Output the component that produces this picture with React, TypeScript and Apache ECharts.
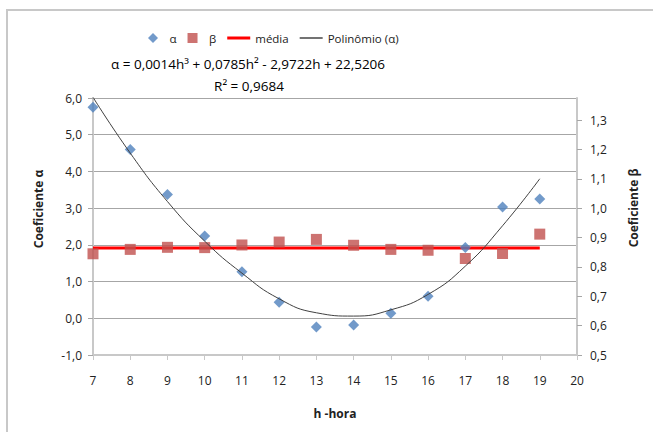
import React, { useEffect, useRef } from "react";
import * as echarts from "echarts";

const hours = [7, 8, 9, 10, 11, 12, 13, 14, 15, 16, 17, 18, 19];
const alphaValues = [5.75, 4.6, 3.37, 2.24, 1.27, 0.44, -0.24, -0.18, 0.14, 0.6, 1.93, 3.03, 3.25];
const betaValues = [0.845, 0.86, 0.867, 0.866, 0.875, 0.885, 0.894, 0.874, 0.86, 0.857, 0.829, 0.846, 0.912];
const mediaHours = [7, 19];
const mediaValue = 0.865;
const polyValues = [6.02, 4.5, 3.18, 2.1, 1.23, 0.53, 0.15, 0.06, 0.23, 0.65, 1.42, 2.52, 3.8];
const legendNames = ["α", "β", "média", "Polinômio (α)"];
const equationText = "α = 0,0014h³ + 0,0785h² - 2,9722h + 22,5206";
const r2Text = "R² = 0,9684";
const xAxisName = "h -hora";
const leftAxisName = "Coeficiente α";
const rightAxisName = "Coeficiente β";

const FONT = "'Open Sans', 'Noto Sans', sans-serif";

export default function App() {
  const ref = useRef<HTMLDivElement>(null);
  useEffect(() => {
    if (!ref.current) return;
    const chart = echarts.init(ref.current, null, { renderer: "svg" });
    const axisLineStyle = { color: "#c8c8c8", width: 2 };
    chart.setOption({
      animation: false,
      backgroundColor: "#ffffff",
      textStyle: { fontFamily: FONT },
      grid: { left: 93, right: 76, top: 98, bottom: 77, containLabel: false },
      legend: {
        left: 143,
        top: 27,
        itemWidth: 23,
        itemHeight: 10,
        itemGap: 11,
        symbolKeepAspect: true,
        textStyle: { fontFamily: FONT, fontSize: 11.5, color: "#222" },
        data: [
          { name: legendNames[0], icon: "path://M5,0L10,5L5,10L0,5Z", itemStyle: { color: "#4f81bd" } },
          { name: legendNames[1], icon: "path://M0,0H10V10H0Z", itemStyle: { color: "#c0504d" } },
          { name: legendNames[2], icon: "path://M0,0H23V3H0Z", itemStyle: { color: "#ff0000" } },
          { name: legendNames[3], icon: "path://M0,0H23V1.6H0Z", itemStyle: { color: "#505050" } },
        ],
      },
      xAxis: {
        type: "value",
        min: 7,
        max: 20,
        interval: 1,
        name: xAxisName,
        nameLocation: "middle",
        nameGap: 52,
        nameTextStyle: { fontFamily: FONT, fontSize: 12, fontWeight: "bold", color: "#222" },
        axisLine: { onZero: false, lineStyle: axisLineStyle },
        axisTick: { show: true, inside: false, length: 5, lineStyle: { color: "#c8c8c8", width: 1 } },
        axisLabel: { margin: 19, fontSize: 12, color: "#222", fontFamily: FONT },
        splitLine: { show: false },
      },
      yAxis: [
        {
          type: "value",
          min: -1,
          max: 6,
          interval: 1,
          position: "left",
          axisLine: { show: true, lineStyle: axisLineStyle },
          axisTick: { show: true, inside: false, length: 5, lineStyle: { color: "#a6a6a6", width: 1 } },
          axisLabel: {
            margin: 11,
            fontSize: 12,
            color: "#222",
            fontFamily: FONT,
            formatter: (v: number) => v.toFixed(1).replace(".", ","),
          },
          splitLine: { show: true, lineStyle: { color: "#a6a6a6", width: 1 } },
        },
        {
          type: "value",
          min: 0.5,
          max: 1.376,
          interval: 0.1,
          position: "right",
          axisLine: { show: true, lineStyle: axisLineStyle },
          axisTick: { show: true, inside: false, length: 5, lineStyle: { color: "#a6a6a6", width: 1 } },
          axisLabel: {
            margin: 13,
            fontSize: 12,
            color: "#222",
            fontFamily: FONT,
            showMaxLabel: false,
            formatter: (v: number) => (v > 1.35 ? "" : v.toFixed(1).replace(".", ",")),
          },
          splitLine: { show: false },
        },
      ],
      series: [
        {
          name: legendNames[2],
          type: "line",
          yAxisIndex: 1,
          symbol: "none",
          data: mediaHours.map((h) => [h, mediaValue]),
          lineStyle: { color: "#ff0000", width: 3 },
          itemStyle: { color: "#ff0000" },
          z: 2,
        },
        {
          name: legendNames[0],
          type: "scatter",
          yAxisIndex: 0,
          symbol: "diamond",
          symbolSize: [11, 11],
          data: hours.map((h, i) => [h, alphaValues[i]]),
          itemStyle: { color: "#4f81bd" },
          z: 3,
        },
        {
          name: legendNames[1],
          type: "scatter",
          yAxisIndex: 1,
          symbol: "rect",
          symbolSize: 11,
          data: hours.map((h, i) => [h, betaValues[i]]),
          itemStyle: { color: "#c0504d" },
          z: 4,
        },
        {
          name: legendNames[3],
          type: "line",
          yAxisIndex: 0,
          symbol: "none",
          smooth: 0.5,
          data: hours.map((h, i) => [h, polyValues[i]]),
          lineStyle: { color: "#404040", width: 1 },
          itemStyle: { color: "#404040" },
          z: 5,
        },
      ],
      graphic: [
        {
          type: "rect",
          shape: { x: 7, y: 10, width: 700, height: 500 },
          style: { fill: "none", stroke: "#c8c8c8", lineWidth: 2 },
          silent: true,
          z: -1,
        },
        {
          type: "text",
          x: 248,
          y: 64,
          style: {
            text: equationText,
            fontFamily: FONT,
            fontSize: 13.5,
            fill: "#000",
            align: "center",
            verticalAlign: "middle",
          },
        },
        {
          type: "text",
          x: 249,
          y: 86,
          style: {
            text: r2Text,
            fontFamily: FONT,
            fontSize: 13.5,
            fill: "#000",
            align: "center",
            verticalAlign: "middle",
          },
        },
        {
          type: "text",
          x: 38,
          y: 209,
          rotation: Math.PI / 2,
          style: {
            text: leftAxisName,
            fontFamily: FONT,
            fontSize: 12,
            fontWeight: "bold",
            fill: "#222",
            align: "center",
            verticalAlign: "middle",
          },
        },
        {
          type: "text",
          x: 633,
          y: 208,
          rotation: Math.PI / 2,
          style: {
            text: rightAxisName,
            fontFamily: FONT,
            fontSize: 12,
            fontWeight: "bold",
            fill: "#222",
            align: "center",
            verticalAlign: "middle",
          },
        },
      ],
    });
    return () => chart.dispose();
  }, []);
  return (
    <div
      ref={ref}
      style={{ position: "fixed", left: 0, top: 0, width: 653, height: 432 }}
    />
  );
}
